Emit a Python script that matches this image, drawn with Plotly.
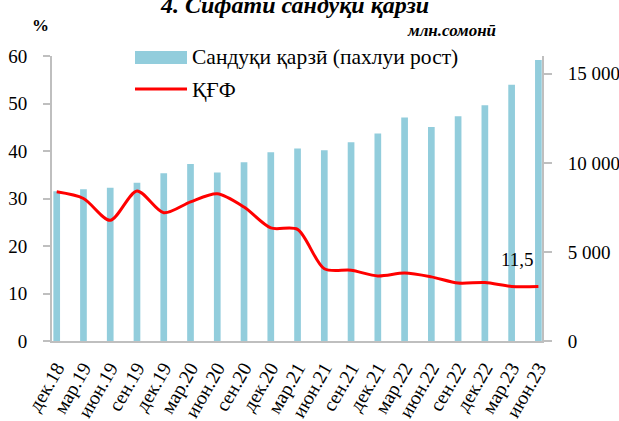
import plotly.graph_objects as go

categories = ["дек.18", "мар.19", "июн.19", "сен.19", "дек.19", "мар.20", "июн.20",
              "сен.20", "дек.20", "мар.21", "июн.21", "сен.21", "дек.21", "мар.22",
              "июн.22", "сен.22", "дек.22", "мар.23", "июн.23"]
loan_portfolio = [8410, 8520, 8600, 8880, 9420, 9930, 9460, 10040, 10600, 10810,
                  10710, 11160, 11650, 12550, 12010, 12620, 13240, 14380, 15770]
npl_share = [31.4, 30.0, 25.4, 31.6, 27.0, 29.3, 31.0, 28.2, 23.8, 23.5,
             15.2, 14.9, 13.7, 14.3, 13.5, 12.2, 12.3, 11.5, 11.5]
left_ticks = [0, 10, 20, 30, 40, 50, 60]
right_ticks = [0, 5000, 10000, 15000]

FONT = "Liberation Serif"
BAR_COLOR = "#92CDDC"
LINE_COLOR = "#FF0000"
AXIS_COLOR = "#BFBFBF"

idx = list(range(len(categories)))

fig = go.Figure()
fig.add_trace(go.Bar(x=idx, y=loan_portfolio, name="Сандуқи қарзӣ (пахлуи рост)",
                     marker=dict(color=BAR_COLOR, line=dict(width=0)), width=0.25,
                     yaxis="y"))
fig.add_trace(go.Scatter(x=idx, y=npl_share, name="ҚҒФ", mode="lines",
                         line=dict(color=LINE_COLOR, width=3, shape="spline", smoothing=0.8),
                         yaxis="y2"))

# last value label
fig.add_annotation(x=idx[-1], y=npl_share[-1], xref="x", yref="y2",
                   text=f"{npl_share[-1]:.1f}".replace(".", ","), showarrow=False,
                   xanchor="right", yanchor="middle", xshift=-2, yshift=27,
                   font=dict(family=FONT, size=19, color="#000"))

W, H = 619, 421
L, R, T, B = 52, 77, 56, 80
pw, ph = W - L - R, H - T - B
def px(x):
    return (x - L) / pw
def py(y):
    return (H - B - y) / ph

# Title and unit labels
fig.add_annotation(x=px(294), y=py(5), xref="paper", yref="paper",
                   text="<b><i>4. Сифати сандуқи қарзӣ</i></b>", showarrow=False,
                   xanchor="center", yanchor="middle",
                   font=dict(family=FONT, size=24, color="#000"))
fig.add_annotation(x=px(40), y=py(25), xref="paper", yref="paper",
                   text="<b>%</b>", showarrow=False, xanchor="center", yanchor="middle",
                   font=dict(family=FONT, size=17, color="#000"))
fig.add_annotation(x=px(498), y=py(31), xref="paper", yref="paper",
                   text="<b><i>млн.сомонӣ</i></b>", showarrow=False, xanchor="right",
                   yanchor="middle", font=dict(family=FONT, size=17, color="#000"))

# Manual legend
fig.add_shape(type="rect", xref="paper", yref="paper", x0=px(135), x1=px(187),
              y0=py(64), y1=py(51), fillcolor=BAR_COLOR, line=dict(width=0))
fig.add_shape(type="line", xref="paper", yref="paper", x0=px(135), x1=px(187),
              y0=py(89), y1=py(89), line=dict(color=LINE_COLOR, width=3))
fig.add_annotation(x=px(190), y=py(57), xref="paper", yref="paper",
                   text="Сандуқи қарзӣ (пахлуи рост)", showarrow=False,
                   xanchor="left", yanchor="middle",
                   font=dict(family=FONT, size=21.5, color="#000"))
fig.add_annotation(x=px(190), y=py(90), xref="paper", yref="paper",
                   text="ҚҒФ", showarrow=False, xanchor="left", yanchor="middle",
                   font=dict(family=FONT, size=21.5, color="#000"))

fig.update_layout(
    width=W, height=H,
    margin=dict(l=L, r=R, t=T, b=B, pad=0),
    paper_bgcolor="white", plot_bgcolor="white",
    showlegend=False,
    separators=", ",
    font=dict(family=FONT, size=19, color="#000"),
    xaxis=dict(tickmode="array", tickvals=idx, ticktext=categories,
               range=[-0.176, 18.135], tickangle=-60, ticks="",
               showline=True, linecolor=AXIS_COLOR, linewidth=2, automargin=False,
               showgrid=False, zeroline=False, ticklabelstandoff=6,
               tickfont=dict(family=FONT, size=19.5, color="#000")),
    yaxis=dict(side="right", range=[0, 16000], tickvals=right_ticks, tickformat=",d",
               showline=True, linecolor=AXIS_COLOR, linewidth=2, ticks="outside",
               ticklen=8, tickcolor=AXIS_COLOR, tickwidth=2, showgrid=False,
               zeroline=False, ticklabelstandoff=12, automargin=False,
               tickfont=dict(family=FONT, size=19, color="#000")),
    yaxis2=dict(side="left", overlaying="y", range=[0, 60], tickvals=left_ticks,
                showline=True, linecolor=AXIS_COLOR, linewidth=2, ticks="outside",
                ticklen=7, tickcolor=AXIS_COLOR, tickwidth=2, showgrid=False,
                zeroline=False, ticklabelstandoff=12, automargin=False,
                tickfont=dict(family=FONT, size=19, color="#000")),
)

fig.write_html("out.html", config={"displayModeBar": False},
               post_script="document.body.style.margin='0';document.body.style.overflow='hidden';")
